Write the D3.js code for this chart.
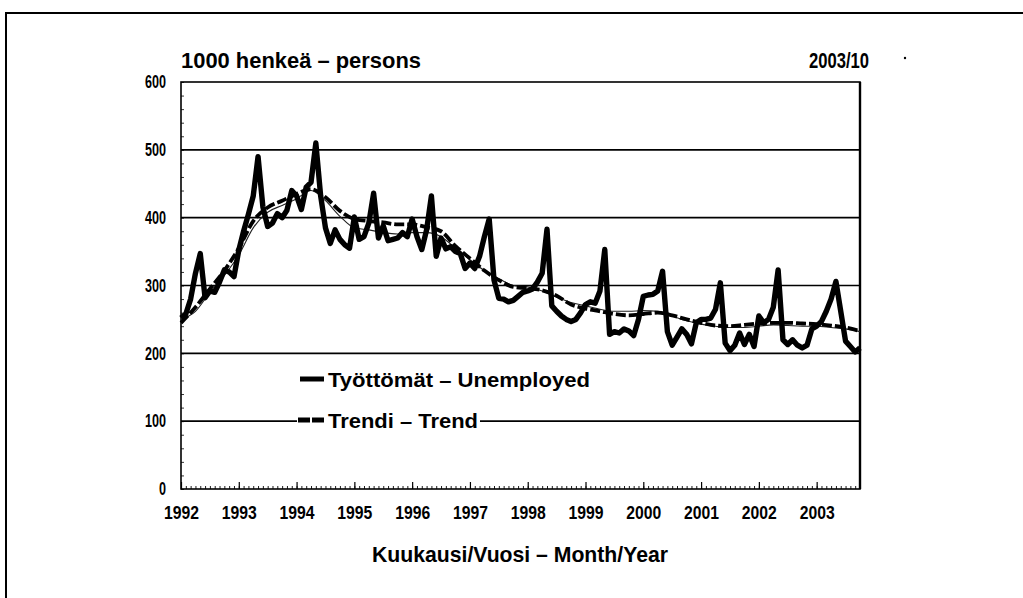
<!DOCTYPE html>
<html><head><meta charset="utf-8">
<script src="https://cdn.jsdelivr.net/npm/d3@7"></script>
<style>
body{margin:0;background:#fff;}
svg{display:block;}
text{font-family:"Liberation Sans",Arial,sans-serif;font-weight:bold;fill:#000;}
</style>
</head><body>
<svg id="c" width="1023" height="598"></svg>
<script>
// ---- data ----
const yearLabels = ["1992","1993","1994","1995","1996","1997","1998","1999","2000","2001","2002","2003"];
const yTickValues = [0,100,200,300,400,500,600];
// monthly unemployed (1000 persons), 1992/01 .. 2003/10
const unemployed = [
  252,258,280,318,347,282,292,290,305,323,320,313,   // 1992
  352,380,405,432,490,416,387,392,406,400,411,440,   // 1993
  432,412,445,452,510,432,385,362,382,368,360,355,   // 1994
  401,368,372,392,436,370,388,366,368,370,378,372,   // 1995
  398,372,353,382,432,343,370,354,357,350,347,325,   // 1996
  333,325,343,372,398,308,281,280,276,278,284,290,   // 1997
  292,295,305,318,383,270,262,255,250,247,250,260,   // 1998
  272,276,274,292,353,228,232,230,236,233,226,250,   // 1999
  284,286,287,292,321,232,212,224,236,228,214,245,   // 2000
  250,250,252,265,304,215,204,212,230,213,228,210,   // 2001
  255,245,250,268,323,220,213,220,212,208,212,236,   // 2002
  240,247,262,280,306,262,218,210,202,208            // 2003
];
// trend, read every third month
const trendMonth = [0,3,6,9,12,15,18,21,24,27,30,33,36,39,42,45,48,51,54,57,60,63,66,69,72,75,78,81,84,87,90,93,96,99,102,105,108,111,114,117,120,123,126,129,132,135,138,141];
const trend = [245,268,295,322,355,395,415,425,435,442,430,410,398,395,393,390,390,386,380,358,340,322,308,298,296,293,285,272,266,262,258,256,258,260,256,250,245,241,240,242,244,245,245,244,243,241,238,233];
// thin companion curve (seasonally adjusted), same months
const adjusted = [250,262,290,315,345,385,408,418,428,440,425,402,385,382,378,376,378,378,372,355,338,322,310,300,298,292,283,275,270,265,262,262,263,262,255,248,243,240,238,238,240,242,241,240,240,238,236,232];

const legendLabels = ["Työttömät – Unemployed","Trendi – Trend"];

// ---- layout ----
const svg = d3.select("#c");
const L = 181, R = 860, T = 82, B = 489;
const x = d3.scaleLinear().domain([0, unemployed.length - 1]).range([L, R]);
const y = d3.scaleLinear().domain([0, 600]).range([B, T]);

// outer frame
svg.append("path").attr("d", "M6,598V13H1023").attr("fill","none").attr("stroke","#000").attr("stroke-width",2);
svg.append("circle").attr("cx",905).attr("cy",58).attr("r",1.2).attr("fill","#000");

// gridlines
svg.append("g").selectAll("line").data(yTickValues.filter(v => v > 0 && v < 600)).join("line")
  .attr("x1", L).attr("x2", R).attr("y1", d => y(d)).attr("y2", d => y(d))
  .attr("stroke","#000").attr("stroke-width",1.6);
// plot border
svg.append("rect").attr("x",L).attr("y",T).attr("width",R-L).attr("height",B-T)
  .attr("fill","none").attr("stroke","#000").attr("stroke-width",1.6);
svg.append("line").attr("x1",R).attr("x2",R).attr("y1",T).attr("y2",B).attr("stroke","#000").attr("stroke-width",2.4);

// y axis labels
const yAxis = svg.append("g").attr("transform",`translate(${L},0)`)
  .call(d3.axisLeft(y).tickValues(yTickValues).tickSize(0).tickPadding(15).tickFormat(d3.format("d")));
yAxis.select(".domain").remove();
yAxis.selectAll("text").attr("font-size",18).attr("font-family",'"Liberation Sans",Arial,sans-serif').attr("font-weight","bold")
  .attr("textLength", d => String(d).length * 7).attr("lengthAdjust","spacingAndGlyphs");
// y minor ticks (inside)
svg.append("g").attr("transform",`translate(${L},0)`)
  .call(d3.axisRight(y).ticks(30).tickSize(3).tickFormat(""))
  .call(g => g.select(".domain").remove())
  .selectAll("line").attr("stroke-width",0.8);

// x axis: monthly minor ticks and yearly major ticks (inside)
svg.append("g").attr("transform",`translate(0,${B})`)
  .call(d3.axisTop(x).tickValues(d3.range(0, unemployed.length)).tickSize(3).tickFormat(""))
  .call(g => g.select(".domain").remove())
  .selectAll("line").attr("stroke-width",0.9);
svg.append("g").attr("transform",`translate(0,${B})`)
  .call(d3.axisTop(x).tickValues(yearLabels.map((_, i) => i * 12)).tickSize(7).tickFormat(""))
  .call(g => g.select(".domain").remove())
  .selectAll("line").attr("stroke-width",1.2);
const xLab = svg.append("g").attr("transform",`translate(0,${B})`)
  .call(d3.axisBottom(x).tickValues(yearLabels.map((_, i) => i * 12)).tickSize(0).tickPadding(17)
    .tickFormat((d, i) => yearLabels[i]));
xLab.select(".domain").remove();
xLab.selectAll("text").attr("font-size",18).attr("font-family",'"Liberation Sans",Arial,sans-serif').attr("font-weight","bold")
  .attr("textLength",35).attr("lengthAdjust","spacingAndGlyphs");

// series
const lineU = d3.line().x((d, i) => x(i)).y(d => y(d));
const lineT = d3.line().x(d => x(d[0])).y(d => y(d[1])).curve(d3.curveMonotoneX);
svg.append("path").datum(d3.zip(trendMonth, adjusted)).attr("d", lineT)
  .attr("fill","none").attr("stroke","#222").attr("stroke-width",1.1);
svg.append("path").datum(d3.zip(trendMonth, trend)).attr("d", lineT)
  .attr("fill","none").attr("stroke","#000").attr("stroke-width",3.8).attr("stroke-dasharray","10,3");
svg.append("path").datum(unemployed).attr("d", lineU)
  .attr("fill","none").attr("stroke","#000").attr("stroke-width",5.4).attr("stroke-linejoin","round");

// legend
svg.append("rect").attr("x",297).attr("y",411).attr("width",183).attr("height",20).attr("fill","#fff");
svg.append("line").attr("x1",300).attr("x2",324).attr("y1",379).attr("y2",379).attr("stroke","#000").attr("stroke-width",5);
svg.append("line").attr("x1",298).attr("x2",326).attr("y1",420).attr("y2",420).attr("stroke","#000").attr("stroke-width",5).attr("stroke-dasharray","12,2");
svg.append("text").attr("x",328).attr("y",387).attr("font-size",21).text(legendLabels[0])
  .attr("textLength",262).attr("lengthAdjust","spacingAndGlyphs");
svg.append("text").attr("x",328).attr("y",428).attr("font-size",21).text(legendLabels[1])
  .attr("textLength",150).attr("lengthAdjust","spacingAndGlyphs");

// titles
svg.append("text").attr("x",181).attr("y",68).attr("font-size",22).text("1000 henkeä – persons")
  .attr("textLength",240).attr("lengthAdjust","spacingAndGlyphs");
svg.append("text").attr("x",869).attr("y",68).attr("font-size",22).attr("text-anchor","end").text("2003/10")
  .attr("textLength",60).attr("lengthAdjust","spacingAndGlyphs");
svg.append("text").attr("x",520).attr("y",562).attr("font-size",22).attr("text-anchor","middle").text("Kuukausi/Vuosi – Month/Year")
  .attr("textLength",296).attr("lengthAdjust","spacingAndGlyphs");
</script>
</body></html>
